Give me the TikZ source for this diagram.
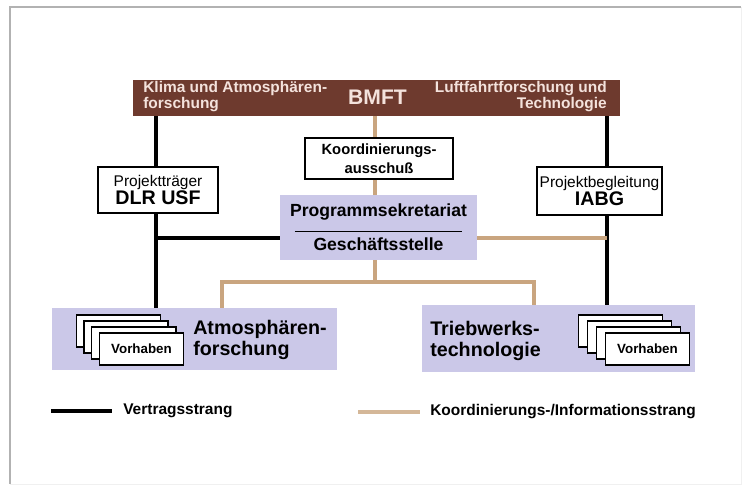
\documentclass[tikz,border=0pt]{standalone}
\usepackage{fontspec}
\setmainfont{Liberation Sans}
\usetikzlibrary{positioning}
\definecolor{bmftbrown}{HTML}{6E3A2E}
\definecolor{bartxt}{HTML}{F4E2DC}
\definecolor{lilac}{HTML}{CBC8E8}
\definecolor{strangtan}{HTML}{C9A57F}

\begin{document}
\begin{tikzpicture}[
  x=0.025cm, y=-0.025cm,
  bar/.style={fill=bmftbrown, inner sep=0pt, minimum width=12.175cm, minimum height=0.9cm},
  bartext/.style={text=bartxt, inner sep=0pt, font=\bfseries\fontsize{11}{12}\selectfont},
  box/.style={draw, line width=1.1pt, fill=white, align=center, inner sep=0pt},
  field/.style={fill=lilac, inner sep=0pt},
  fieldtext/.style={inner sep=0pt, align=left, font=\bfseries\fontsize{14}{15}\selectfont},
  card/.style={draw, line width=1pt, fill=white, inner sep=0pt, minimum width=2.1cm, minimum height=0.8cm, font=\bfseries\fontsize{9.5}{11}\selectfont},
  vertrag/.style={line width=2.6pt},
  info/.style={strangtan, line width=2.2pt},
  legtext/.style={inner sep=0pt, anchor=west, font=\bfseries\fontsize{11}{12}\selectfont}
]
\useasboundingbox (0,0) rectangle (744,490);
\draw[gray!60, line width=0.8pt] (10,484) -- (10,7) -- (741,7);
\draw[gray!12, line width=0.5pt] (741,7) -- (741,484) -- (10,484);

% BMFT bar
\node[bar] (bmft) at (376.5,98) {};
\node[bartext, font=\bfseries\fontsize{15}{17}\selectfont] (bmfttxt) at (377.5,97) {BMFT};
\node[bartext, anchor=west, align=left] (klima) at (143,96.5) {Klima und Atmosphären-\\forschung};
\node[bartext, anchor=east, align=right] (luft) at (607,96.5) {Luftfahrtforschung und\\Technologie};

% boxes
\node[box, minimum width=3cm, minimum height=1.15cm] (dlr) at (158,190)
  {\fontsize{11}{13}\selectfont Projektträger\\\bfseries\fontsize{14}{16}\selectfont DLR USF};
\node[box, minimum width=3.7cm, minimum height=1.025cm, font=\bfseries\fontsize{10.5}{13.5}\selectfont] (koord) at (379,158.5)
  {Koordinierungs-\\ausschuß};
\node[field, align=center, minimum width=4.925cm, minimum height=1.625cm, font=\bfseries\fontsize{12.5}{15}\selectfont] (prog) at (378.5,227.5)
  {Programmsekretariat\\[-4pt]\rule{119pt}{0.9pt}\\[-2pt]Geschäftsstelle};
\node[box, minimum width=3.125cm, minimum height=1.2cm] (iabg) at (599.5,191)
  {\fontsize{11}{13}\selectfont Projektbegleitung\\\bfseries\fontsize{14}{17}\selectfont IABG};

% fields
\node[field, minimum width=7.125cm, minimum height=1.55cm] (atmo) at (194.5,339) {};
\node[field, minimum width=6.825cm, minimum height=1.675cm] (trieb) at (558.5,338.5) {};
\node[fieldtext, anchor=west] (atmotxt) at (193,340) {Atmosphären-\\forschung};
\node[fieldtext, anchor=west] (triebtxt) at (430,341) {Triebwerks-\\technologie};

% Vorhaben stacks
\foreach \i in {3,2,1}
  \node[card] (la\i) at (141.5-7.7*\i,349-6*\i) {};
\node[card] (la0) at (141.5,349) {Vorhaben};
\foreach \i in {3,2,1}
  \node[card] (ra\i) at (647.5-9*\i,349-6*\i) {};
\node[card] (ra0) at (647.5,349) {Vorhaben};

% strands
\coordinate (lx) at (156,0);
\coordinate (cx) at (375,0);
\coordinate (rx) at (607,0);
\coordinate (hy) at (0,238);
\coordinate (ta) at (222,282);
\coordinate (tj) at (375,282);
\coordinate (tb) at (534,282);

\draw[vertrag] (bmft.south -| lx) -- (dlr.north -| lx);
\draw[vertrag] (dlr.south -| lx) -- (atmo.north -| lx);
\draw[vertrag] (lx |- hy) -- (prog.west |- hy);
\draw[vertrag] (bmft.south -| rx) -- (iabg.north -| rx);
\draw[vertrag] (iabg.south -| rx) -- (trieb.north -| rx);

\draw[info] (bmft.south -| cx) -- (koord.north -| cx);
\draw[info] (koord.south -| cx) -- (prog.north -| cx);
\draw[info] (prog.south -| cx) -- (tj);
\draw[info] (atmo.north -| ta) -- (ta) -- (tb) -- (trieb.north -| tb);
\draw[info] (prog.east |- hy) -- (rx |- hy);

% legend
\coordinate (lv1) at (51,411);
\coordinate (lv2) at (112,411);
\coordinate (lk1) at (358,412);
\coordinate (lk2) at (420,412);
\draw[line width=3.2pt] (lv1) -- (lv2);
\node[legtext] (vtxt) at (123,411) {Vertragsstrang};
\draw[strangtan!80, line width=2.6pt] (lk1) -- (lk2);
\node[legtext] (ktxt) at (430,412) {Koordinierungs-/Informationsstrang};
\end{tikzpicture}
\end{document}
